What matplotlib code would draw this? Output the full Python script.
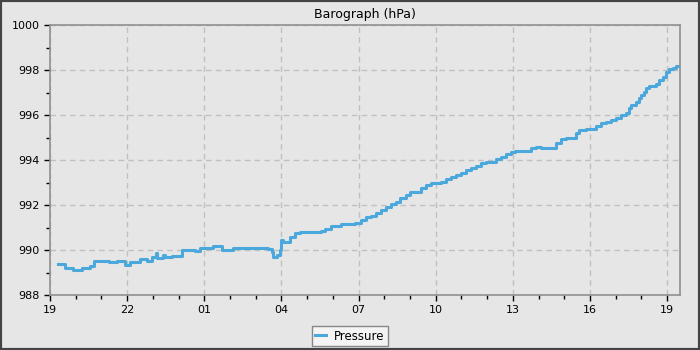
import matplotlib
matplotlib.use('Agg')
import matplotlib.pyplot as plt
from matplotlib.patches import Rectangle
from matplotlib.ticker import MultipleLocator

# hours after 19:00, pressure in hPa
hours = [0.31, 0.58, 0.90, 1.25, 1.56, 1.71, 2.30, 2.60, 2.92, 3.12, 3.51, 3.78,
         3.97, 4.13, 4.17, 4.40, 4.48, 4.75, 5.14, 5.65, 5.84, 6.35, 6.70, 7.10,
         8.49, 8.65, 8.69, 8.84, 8.96, 9.00, 9.08, 9.35, 9.54, 9.74, 10.52, 10.71,
         10.91, 11.30, 11.88, 12.08, 12.27, 12.47, 12.66, 12.86, 13.05, 13.25, 13.44,
         13.63, 13.83, 14.00, 14.41, 14.61, 14.80, 15.19, 15.39, 15.58, 15.78, 15.97,
         16.17, 16.36, 16.56, 16.75, 16.95, 17.34, 17.53, 17.73, 17.92, 18.10, 18.70,
         18.89, 19.09, 19.67, 19.87, 20.06, 20.45, 20.57, 20.84, 21.23, 21.43, 21.62,
         21.82, 22.01, 22.21, 22.40, 22.52, 22.60, 22.79, 22.91, 22.98, 23.10, 23.18,
         23.30, 23.57, 23.69, 23.84, 23.96, 24.07, 24.23, 24.35, 24.43]
pressure = [989.4, 989.2, 989.1, 989.2, 989.3, 989.5, 989.45, 989.5, 989.35, 989.45, 989.6, 989.5,
            989.7, 989.85, 989.65, 989.8, 989.7, 989.75, 990.0, 989.95, 990.08, 990.17, 990.02, 990.08,
            990.05, 989.9, 989.7, 989.8, 990.0, 990.45, 990.37, 990.6, 990.74, 990.8, 990.83, 990.92,
            991.05, 991.14, 991.2, 991.33, 991.45, 991.52, 991.63, 991.78, 991.93, 992.04, 992.15,
            992.3, 992.44, 992.6, 992.77, 992.89, 992.96, 993.04, 993.14, 993.23, 993.33, 993.44,
            993.56, 993.63, 993.73, 993.85, 993.92, 994.04, 994.15, 994.27, 994.37, 994.41, 994.52,
            994.6, 994.55, 994.74, 994.92, 995.0, 995.19, 995.33, 995.4, 995.5, 995.63, 995.7,
            995.78, 995.88, 996.0, 996.07, 996.3, 996.44, 996.6, 996.77, 996.89, 997.04, 997.21,
            997.3, 997.4, 997.56, 997.7, 997.93, 998.04, 998.1, 998.19, 998.2]

tick_pos = [0, 3, 6, 9, 12, 15, 18, 21, 24]
tick_labels = ['19', '22', '01', '04', '07', '10', '13', '16', '19']

bg = '#e6e6e6'
fig = plt.figure(figsize=(7, 3.5), dpi=100, facecolor=bg)
ax = fig.add_axes([50/700, 1-295/350, 630/700, 270/350])
ax.set_facecolor(bg)

ax.plot(hours, pressure, drawstyle='steps-post', color='#4aa8dc', lw=2.2, label='Pressure')

ax.set_xlim(0, 24.5)
ax.set_ylim(988, 1000)
ax.set_xticks(tick_pos)
ax.set_xticklabels(tick_labels)
ax.xaxis.set_minor_locator(MultipleLocator(1))
ax.yaxis.set_major_locator(MultipleLocator(2))
ax.yaxis.set_minor_locator(MultipleLocator(1))
ax.tick_params(which='major', length=4, width=1, labelsize=8, color='black')
ax.tick_params(which='minor', length=3, width=1, color='black')
ax.grid(True, which='major', linestyle=(0, (4, 3)), color='#c0c0c0', lw=1)
for s in ax.spines.values():
    s.set_color('#909090')
    s.set_linewidth(1.2)

ax.set_title('Barograph (hPa)', fontsize=9, pad=5)

leg = fig.legend(loc='center', bbox_to_anchor=(0.5, 0.04), fontsize=8.5, frameon=True,
                 fancybox=False, handlelength=0.9, borderpad=0.3, handletextpad=0.7)
leg.get_frame().set_edgecolor('#888888')
leg.get_frame().set_facecolor('#f4f4f4')
leg.get_frame().set_alpha(1)

fig.patches.append(Rectangle((0, 0), 1, 1, transform=fig.transFigure, fill=False,
                             edgecolor='#444444', lw=3))

fig.savefig('out.png', dpi=100, facecolor=bg)
